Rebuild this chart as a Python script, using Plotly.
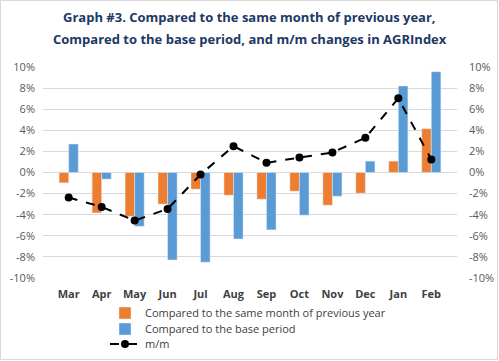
import plotly.graph_objects as go

months = ["Mar", "Apr", "May", "Jun", "Jul", "Aug", "Sep", "Oct", "Nov", "Dec", "Jan", "Feb"]
prev_year = [-0.98, -3.83, -4.15, -3.0, -1.58, -2.15, -2.53, -1.77, -3.1, -1.96, 1.08, 4.15]
base_period = [2.7, -0.63, -5.1, -8.3, -8.5, -6.3, -5.44, -4.05, -2.25, 1.08, 8.2, 9.56]
mm = [-2.37, -3.26, -4.56, -3.45, -0.19, 2.5, 0.92, 1.42, 1.9, 3.29, 7.03, 1.23]
tick_vals = [-10, -8, -6, -4, -2, 0, 2, 4, 6, 8, 10]
tick_text = [f"{v}%" for v in tick_vals]
title_lines = ["<b>Graph #3. Compared to the same month of previous year,</b>",
               "<b>Compared to the base period, and m/m changes in AGRIndex</b>"]

W, H = 499, 361
ml, mr, mt, mb = 43, 42, 67, 83
pw, ph = W - ml - mr, H - mt - mb

fig = go.Figure()
fig.add_trace(go.Bar(x=months, y=[v / 100 for v in prev_year], name="Compared to the same month of previous year",
                     marker_color="#ED7D31", legend="legend"))
fig.add_trace(go.Bar(x=months, y=[v / 100 for v in base_period], name="Compared to the base period",
                     marker_color="#5B9BD5", legend="legend2"))
fig.add_trace(go.Scatter(x=months, y=[v / 100 for v in mm], name="m/m", mode="lines+markers",
                         line=dict(color="black", width=2, dash="dash"),
                         marker=dict(color="black", size=8), yaxis="y2", legend="legend3"))

axis_common = dict(range=[-0.1, 0.1], tickvals=[v / 100 for v in tick_vals], ticktext=tick_text,
                   tickfont=dict(family="Open Sans", size=11, color="#595959"), zeroline=False,
                   showline=False, ticks="")


def legend_at(yc):
    return dict(orientation="v", xref="container", yref="container",
                x=105 / W, xanchor="left", y=1 - yc / H, yanchor="middle",
                font=dict(family="Open Sans", size=11, color="#404040"),
                bgcolor="rgba(0,0,0,0)")


def title_at(text, yc):
    # convert container pixel position to paper coordinates
    return dict(text=text, xref="paper", yref="paper", x=(W / 2 - ml) / pw, xanchor="center",
                y=(H - mb - yc) / ph, yanchor="middle", showarrow=False,
                font=dict(family="Open Sans", size=13, color="#203864"))


fig.update_layout(
    width=W, height=H,
    margin=dict(l=ml, r=mr, t=mt, b=mb, autoexpand=False),
    paper_bgcolor="white", plot_bgcolor="white",
    barmode="group", bargap=0.42, bargroupgap=0,
    xaxis=dict(tickfont=dict(family="Open Sans", size=11, color="#404040", weight="bold"),
               showgrid=False, showline=False, ticks="", ticklabelstandoff=8),
    yaxis=dict(**axis_common, showgrid=True, gridcolor="#D9D9D9", gridwidth=1, ticklabelstandoff=7),
    yaxis2=dict(**axis_common, overlaying="y", side="right", showgrid=False, ticklabelstandoff=11),
    legend=legend_at(313),
    legend2=legend_at(329),
    legend3=legend_at(344),
    showlegend=True,
    annotations=[title_at(title_lines[0], 17), title_at(title_lines[1], 39)],
    shapes=[dict(type="rect", xref="paper", yref="paper",
                 x0=-(ml - 0.5) / pw, x1=1 + (mr - 1.5) / pw,
                 y0=-(mb - 1.5) / ph, y1=1 + (mt - 0.5) / ph,
                 line=dict(color="#D9D9D9", width=1), layer="below")],
)

fig.write_html("out.html", config={"displayModeBar": False},
               post_script="document.body.style.margin='0';")
